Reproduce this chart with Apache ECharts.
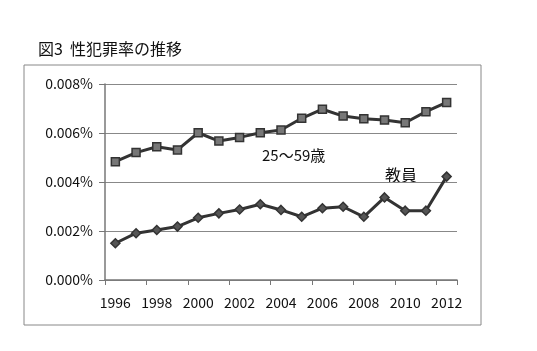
<!DOCTYPE html>
<html>
<head>
<meta charset="utf-8">
<script src="https://cdn.jsdelivr.net/npm/echarts@6/dist/echarts.min.js"></script>
<style>
  html, body { margin: 0; padding: 0; background: #fff; }
  #main { width: 537px; height: 351px; }
</style>
</head>
<body>
<div id="main"></div>
<script>
// データ（単位: %）
const years = ['1996', '1997', '1998', '1999', '2000', '2001', '2002', '2003', '2004',
  '2005', '2006', '2007', '2008', '2009', '2010', '2011', '2012']
const age25to59 = [0.00483, 0.00520, 0.00544, 0.00531, 0.00601, 0.00567, 0.00582, 0.00601, 0.00612,
  0.00660, 0.00697, 0.00669, 0.00658, 0.00653, 0.00642, 0.00687, 0.00725]
const teachers = [0.00150, 0.00191, 0.00204, 0.00218, 0.00254, 0.00272, 0.00288, 0.00309, 0.00286,
  0.00258, 0.00293, 0.00299, 0.00258, 0.00337, 0.00283, 0.00283, 0.00422]

const font = '"Noto Sans CJK JP", "Noto Sans", sans-serif'

const option = {
  animation: false,
  backgroundColor: '#fff',
  title: {
    text: '図3  性犯罪率の推移',
    left: 33,
    top: 36,
    textStyle: { fontFamily: font, fontSize: 16, fontWeight: 'normal', color: '#111' },
  },
  graphic: [
    {
      type: 'rect',
      shape: { x: 24, y: 65, width: 457, height: 260 },
      style: { fill: 'none', stroke: '#888', lineWidth: 1 },
      z: -1,
    },
    {
      type: 'text',
      left: 262,
      top: 148,
      style: { text: '25〜59歳', font: '15px ' + font, fill: '#111' },
    },
    {
      type: 'text',
      left: 385,
      top: 167,
      style: { text: '教員', font: '16px ' + font, fill: '#111' },
    },
  ],
  grid: {
    left: 105,
    right: 80,
    top: 84,
    bottom: 71,
    containLabel: false,
  },
  xAxis: {
    type: 'category',
    boundaryGap: true,
    data: years,
    axisLine: { lineStyle: { color: '#777', width: 1.5 } },
    axisTick: { show: true, length: 5, lineStyle: { color: '#777' } },
    axisLabel: {
      interval: 1,
      color: '#111',
      fontFamily: font,
      fontSize: 14,
      margin: 16,
    },
  },
  yAxis: {
    type: 'value',
    min: 0,
    max: 0.008,
    interval: 0.002,
    axisLine: { show: true, lineStyle: { color: '#777', width: 1.5 } },
    axisTick: { show: true, length: 6, lineStyle: { color: '#777' } },
    axisLabel: {
      color: '#111',
      fontFamily: font,
      fontSize: 14,
      margin: 12,
      formatter: (v) => v.toFixed(3) + '%',
    },
    splitLine: { lineStyle: { color: '#888', width: 1.2 } },
  },
  series: [
    {
      name: '25〜59歳',
      type: 'line',
      data: age25to59,
      symbol: 'rect',
      symbolSize: 8,
      lineStyle: { color: '#333', width: 3 },
      itemStyle: { color: '#777', borderColor: '#333', borderWidth: 1.5 },
    },
    {
      name: '教員',
      type: 'line',
      data: teachers,
      symbol: 'diamond',
      symbolSize: 9,
      lineStyle: { color: '#333', width: 3 },
      itemStyle: { color: '#555', borderColor: '#333', borderWidth: 1.5 },
    },
  ],
}

const chart = echarts.init(document.getElementById('main'))
chart.setOption(option)
</script>
</body>
</html>
